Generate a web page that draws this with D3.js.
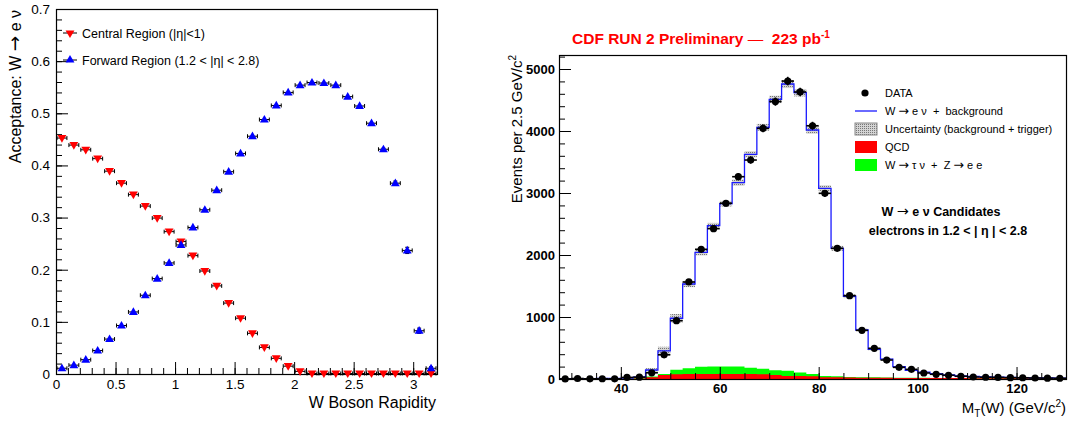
<!DOCTYPE html>
<html>
<head>
<meta charset="utf-8">
<script src="https://cdn.jsdelivr.net/npm/d3@7"></script>
<style>
  body { margin: 0; background: #fff; }
  text { font-family: "Liberation Sans", Arial, Helvetica, sans-serif; white-space: pre; }
</style>
</head>
<body>
<div id="chart"></div>
<script>
// ---------- left pad: acceptance vs W rapidity ----------
const rapidity = [0.05, 0.15, 0.25, 0.35, 0.45, 0.55, 0.65, 0.75, 0.85, 0.95,
  1.05, 1.15, 1.25, 1.35, 1.45, 1.55, 1.65, 1.75, 1.85, 1.95,
  2.05, 2.15, 2.25, 2.35, 2.45, 2.55, 2.65, 2.75, 2.85, 2.95, 3.05, 3.15];
const centralAcc = [0.4525, 0.439, 0.430, 0.413, 0.389, 0.366, 0.344, 0.322, 0.299, 0.273,
  0.254, 0.227, 0.1975, 0.169, 0.136, 0.107, 0.078, 0.051, 0.030, 0.015,
  0.005, 0.001, 0.001, 0.001, 0.001, 0.001, 0.001, 0.001, 0.001, 0.001, 0.001, 0.001];
const forwardAcc = [0.011, 0.017, 0.0275, 0.045, 0.067, 0.093, 0.119, 0.151, 0.183, 0.213,
  0.2475, 0.281, 0.315, 0.3525, 0.388, 0.423, 0.456, 0.488, 0.515, 0.540,
  0.554, 0.559, 0.558, 0.554, 0.532, 0.514, 0.481, 0.431, 0.366, 0.237, 0.083, 0.011];
const forwardErr = [0, 0, 0, 0, 0, 0, 0, 0, 0, 0, 0, 0, 0, 0, 0, 0, 0, 0, 0, 0,
  0, 0, 0, 0, 0, 0, 0, 0.002, 0.004, 0.006, 0.005, 0.003];
const accTicks = [0, 0.1, 0.2, 0.3, 0.4, 0.5, 0.6, 0.7];
const rapTicks = [0, 0.5, 1, 1.5, 2, 2.5, 3];

// ---------- right pad: transverse mass ----------
const mtCenters = [28.75, 31.25, 33.75, 36.25, 38.75, 41.25, 43.75, 46.25, 48.75, 51.25,
  53.75, 56.25, 58.75, 61.25, 63.75, 66.25, 68.75, 71.25, 73.75, 76.25,
  78.75, 81.25, 83.75, 86.25, 88.75, 91.25, 93.75, 96.25, 98.75, 101.25,
  103.75, 106.25, 108.75, 111.25, 113.75, 116.25, 118.75, 121.25, 123.75, 126.25, 128.75];
const dataEvents = [2, 8, 3, 4, 3, 25, 30, 100, 390, 940,
  1565, 2092, 2425, 2835, 3263, 3532, 4043, 4475, 4805, 4630,
  4085, 2995, 2108, 1344, 785, 495, 306, 188, 156, 97,
  76, 60, 44, 32, 28, 26, 22, 20, 16, 14, 12];
const mcTotal = [5, 6, 6, 8, 10, 15, 30, 145, 455, 980,
  1532, 2043, 2473, 2828, 3167, 3624, 4060, 4510, 4758, 4618,
  4016, 3075, 2108, 1335, 790, 480, 320, 200, 140, 110,
  85, 65, 50, 40, 34, 30, 26, 22, 19, 16, 14];
const mcUnc = [5, 5, 5, 5, 5, 5, 8, 30, 65, 68,
  50, 50, 45, 45, 50, 50, 55, 60, 65, 60,
  60, 50, 40, 30, 20, 15, 10, 8, 8, 6,
  5, 5, 5, 5, 5, 5, 5, 5, 5, 5, 5];
const ewkBkg = [2, 2, 2, 2, 2, 6, 12, 40, 80, 150,
  175, 198, 200, 200, 200, 180, 165, 140, 135, 105,
  80, 50, 45, 32, 30, 27, 24, 22, 21, 19,
  18, 16, 16, 14, 14, 13, 13, 12, 12, 12, 12];
const qcdBkg = [2, 2, 2, 2, 2, 6, 10, 27, 65, 75,
  80, 80, 80, 80, 80, 80, 75, 65, 50, 48,
  45, 30, 28, 25, 22, 20, 20, 18, 18, 16,
  16, 15, 15, 14, 14, 13, 13, 12, 12, 12, 12];
const binWidth = 2.5;
const evTicks = [0, 1000, 2000, 3000, 4000, 5000];
const mtTicks = [40, 60, 80, 100, 120];

const W = 1069, H = 423;

const svg = d3
  .select("#chart")
  .append("svg")
  .attr("width", W)
  .attr("height", H);

// dotted fill used for the uncertainty band
const pat = svg
  .append("defs")
  .append("pattern")
  .attr("id", "dots")
  .attr("width", 2)
  .attr("height", 2)
  .attr("patternUnits", "userSpaceOnUse");
pat.append("rect").attr("width", 2).attr("height", 2).attr("fill", "#d4d4d4");
pat.append("rect").attr("width", 1).attr("height", 1).attr("fill", "#777");

// write a label, arrows in a font that has a full width arrow
function label(sel, str) {
  str.split("→").forEach((part, i) => {
    if (i > 0) {
      sel.append("tspan")
        .style("font-family", '"DejaVu Sans"')
        .style("font-weight", "normal")
        .style("font-size", "1.15em")
        .text("→");
    }
    sel.append("tspan").text(part);
  });
  return sel;
}

// ROOT style axes: ticks inside the frame, no domain line
function drawAxes(x, y, yMajor, yMinor, xMajor, xMinor, o) {
  const x0 = x.range()[0], y0 = y.range()[0];
  const yAx = svg.append("g").attr("transform", `translate(${x0},0)`);
  yAx.call(d3.axisLeft(y).tickValues(yMinor).tickSize(-o.minor).tickSizeOuter(0).tickFormat(""));
  yAx.append("g")
    .call(d3.axisLeft(y).tickValues(yMajor).tickSize(-o.major).tickSizeOuter(0)
      .tickPadding(o.yPad).tickFormat(o.yFmt));
  const xAx = svg.append("g").attr("transform", `translate(0,${y0})`);
  xAx.call(d3.axisBottom(x).tickValues(xMinor).tickSize(-o.minor).tickSizeOuter(0).tickFormat(""));
  xAx.append("g")
    .call(d3.axisBottom(x).tickValues(xMajor).tickSize(-o.major).tickSizeOuter(0)
      .tickPadding(o.xPad).tickFormat(o.xFmt));
  [yAx, xAx].forEach((a) => {
    a.selectAll(".domain").remove();
    a.selectAll("text")
      .style("font-family", '"Liberation Sans", Arial, sans-serif')
      .style("font-size", o.fontSize)
      .style("font-weight", o.weight)
      .attr("fill", "#000");
  });
  // frame
  svg.append("rect")
    .attr("x", x0 + 0.5)
    .attr("y", y.range()[1] + 0.5)
    .attr("width", x.range()[1] - x0)
    .attr("height", y0 - y.range()[1])
    .attr("fill", "none")
    .attr("stroke", "#000")
    .attr("stroke-width", 1.2);
}

// ================= left pad =================
const xL = d3.scaleLinear().domain([0, 3.2]).range([56, 437]);
const yL = d3.scaleLinear().domain([0, 0.7]).range([374, 9]);

drawAxes(xL, yL, accTicks, d3.range(0, 0.7001, 0.02), rapTicks, d3.range(0, 3.21, 0.1), {
  major: 12, minor: 6, yPad: 6, xPad: 5, fontSize: "13.5px", weight: "normal",
  yFmt: d3.format("~g"), xFmt: d3.format("~g"),
});

const triUp = d3.symbol().type(d3.symbolTriangle).size(34);

function drawSeries(values, errs, color, flip) {
  const g = svg.append("g");
  rapidity.forEach((r, i) => {
    const cx = xL(r), cy = yL(values[i]);
    // horizontal error bar with end caps
    g.append("line")
      .attr("x1", xL(r - 0.05) + 1).attr("x2", xL(r + 0.05) - 1)
      .attr("y1", cy).attr("y2", cy)
      .attr("stroke", "#000").attr("stroke-width", 1);
    [xL(r - 0.05) + 1, xL(r + 0.05) - 1].forEach((ex) => {
      g.append("line")
        .attr("x1", ex).attr("x2", ex).attr("y1", cy - 2).attr("y2", cy + 2)
        .attr("stroke", "#000").attr("stroke-width", 1);
    });
    if (errs && errs[i] > 0) {
      g.append("line")
        .attr("x1", cx).attr("x2", cx)
        .attr("y1", yL(values[i] - errs[i])).attr("y2", yL(values[i] + errs[i]))
        .attr("stroke", "#000");
      [yL(values[i] - errs[i]), yL(values[i] + errs[i])].forEach((ey) => {
        g.append("line").attr("x1", cx - 2).attr("x2", cx + 2).attr("y1", ey).attr("y2", ey)
          .attr("stroke", "#000");
      });
    }
    g.append("path")
      .attr("d", triUp())
      .attr("transform", `translate(${cx},${cy + (flip ? -0.5 : 0.5)}) rotate(${flip ? 180 : 0})`)
      .attr("fill", color);
  });
}
drawSeries(centralAcc, null, "#ff0000", true);
drawSeries(forwardAcc, forwardErr, "#0000ff", false);

// left legend
[
  { y: 33, color: "#ff0000", flip: true, label: "Central Region (|η|<1)" },
  { y: 60, color: "#0000ff", flip: false, label: "Forward Region (1.2 < |η| < 2.8)" },
].forEach((d) => {
  svg.append("line").attr("x1", 63).attr("x2", 77).attr("y1", d.y).attr("y2", d.y)
    .attr("stroke", "#000");
  svg.append("path").attr("d", triUp())
    .attr("transform", `translate(70,${d.y}) rotate(${d.flip ? 180 : 0})`)
    .attr("fill", d.color);
  svg.append("text").attr("x", 82).attr("y", d.y + 4.5)
    .style("font-size", "12.5px").text(d.label);
});

// left titles
label(svg.append("text")
  .attr("transform", "translate(21,10) rotate(-90)")
  .attr("text-anchor", "end")
  .style("font-size", "16px"), "Acceptance: W → e ν");
svg.append("text")
  .attr("x", 436).attr("y", 408)
  .attr("text-anchor", "end")
  .style("font-size", "16px")
  .text("W Boson Rapidity");

// ================= right pad =================
const xR = d3.scaleLinear().domain([27.5, 130]).range([559, 1066]);
const yR = d3.scaleLinear().domain([0, 5226]).range([379, 55]);

function stepPts(values) {
  const pts = mtCenters.map((c, i) => [c - binWidth / 2, values[i]]);
  pts.push([mtCenters[mtCenters.length - 1] + binWidth / 2, values[values.length - 1]]);
  return pts;
}

const area = d3.area()
  .x((d) => xR(d[0]))
  .y0(yR(0))
  .y1((d) => yR(d[1]))
  .curve(d3.curveStepAfter);

// electroweak background (stacked on QCD), then QCD
svg.append("path").attr("d", area(stepPts(ewkBkg))).attr("fill", "#00ff00");
svg.append("path").attr("d", area(stepPts(qcdBkg))).attr("fill", "#ff0000");

// uncertainty band
svg.append("g")
  .selectAll("rect")
  .data(mtCenters)
  .enter()
  .append("rect")
  .attr("x", (c) => xR(c - binWidth / 2))
  .attr("width", (c) => xR(c + binWidth / 2) - xR(c - binWidth / 2))
  .attr("y", (c, i) => yR(mcTotal[i] + mcUnc[i]))
  .attr("height", (c, i) => yR(mcTotal[i] - mcUnc[i]) - yR(mcTotal[i] + mcUnc[i]))
  .attr("fill", "url(#dots)");

// total prediction line
const line = d3.line()
  .x((d) => xR(d[0]))
  .y((d) => yR(d[1]))
  .curve(d3.curveStepAfter);
svg.append("path")
  .attr("d", line(stepPts(mcTotal)))
  .attr("fill", "none")
  .attr("stroke", "#1a1aff")
  .attr("stroke-width", 1.3);

drawAxes(xR, yR, evTicks, d3.range(0, 5201, 200), mtTicks, d3.range(30, 130.1, 5), {
  major: 12, minor: 6, yPad: 4, xPad: 5, fontSize: "13px", weight: "bold",
  yFmt: d3.format("d"), xFmt: d3.format("d"),
});

// data points
const dg = svg.append("g");
mtCenters.forEach((c, i) => {
  const cx = xR(c), cy = yR(dataEvents[i]);
  const e = Math.sqrt(dataEvents[i]);
  dg.append("line")
    .attr("x1", xR(c - binWidth / 2)).attr("x2", xR(c + binWidth / 2))
    .attr("y1", cy).attr("y2", cy)
    .attr("stroke", "#000").attr("stroke-width", 1.6);
  dg.append("line")
    .attr("x1", cx).attr("x2", cx)
    .attr("y1", yR(dataEvents[i] - e)).attr("y2", yR(dataEvents[i] + e))
    .attr("stroke", "#000").attr("stroke-width", 1.6);
  dg.append("circle").attr("cx", cx).attr("cy", cy).attr("r", 3.6).attr("fill", "#000");
});

// title
const title = svg.append("text")
  .attr("x", 572).attr("y", 44)
  .attr("fill", "#ff0000")
  .style("font-size", "15.5px")
  .style("font-weight", "bold");
title.append("tspan").text("CDF RUN 2 Preliminary ");
title.append("tspan").style("font-weight", "normal").text("—");
title.append("tspan").text("  223 pb");
title.append("tspan").attr("dy", -6).style("font-size", "10px").text("-1");

// right axis titles
const yt = svg.append("text")
  .attr("transform", "translate(522,55) rotate(-90)")
  .attr("text-anchor", "end")
  .style("font-size", "15px")
  .text("Events per 2.5 GeV/c");
yt.append("tspan").attr("dy", -6).style("font-size", "10px").text("2");

const xt = svg.append("text")
  .attr("x", 1066).attr("y", 413)
  .attr("text-anchor", "end")
  .style("font-size", "15px")
  .text("M");
xt.append("tspan").attr("dy", 4).style("font-size", "10px").text("T");
xt.append("tspan").attr("dy", -4).text("(W) (GeV/c");
xt.append("tspan").attr("dy", -6).style("font-size", "10px").text("2");
xt.append("tspan").attr("dy", 6).text(")");

// right legend
const lg = svg.append("g").style("font-size", "11px");
lg.append("circle").attr("cx", 865).attr("cy", 93).attr("r", 3.6).attr("fill", "#000");
lg.append("text").attr("x", 885).attr("y", 97).text("DATA");
lg.append("line").attr("x1", 855).attr("x2", 877).attr("y1", 111).attr("y2", 111)
  .attr("stroke", "#1a1aff").attr("stroke-width", 1.3);
label(lg.append("text").attr("x", 885).attr("y", 115), "W → e ν  +  background");
lg.append("rect").attr("x", 855).attr("y", 123).attr("width", 22).attr("height", 12)
  .attr("fill", "url(#dots)").attr("stroke", "#888");
lg.append("text").attr("x", 885).attr("y", 133).text("Uncertainty (background + trigger)");
lg.append("rect").attr("x", 855).attr("y", 141).attr("width", 22).attr("height", 12)
  .attr("fill", "#ff0000");
lg.append("text").attr("x", 885).attr("y", 151).text("QCD");
lg.append("rect").attr("x", 855).attr("y", 159).attr("width", 22).attr("height", 12)
  .attr("fill", "#00ff00");
label(lg.append("text").attr("x", 885).attr("y", 169), "W → τ ν  +  Z → e e");

// selection label
label(svg.append("text")
  .attr("x", 941).attr("y", 216)
  .attr("text-anchor", "middle")
  .style("font-size", "12.5px").style("font-weight", "bold"), "W → e ν Candidates");
svg.append("text")
  .attr("x", 948).attr("y", 235)
  .attr("text-anchor", "middle")
  .style("font-size", "12.5px").style("font-weight", "bold")
  .text("electrons in 1.2 < | η | < 2.8");
</script>
</body>
</html>
